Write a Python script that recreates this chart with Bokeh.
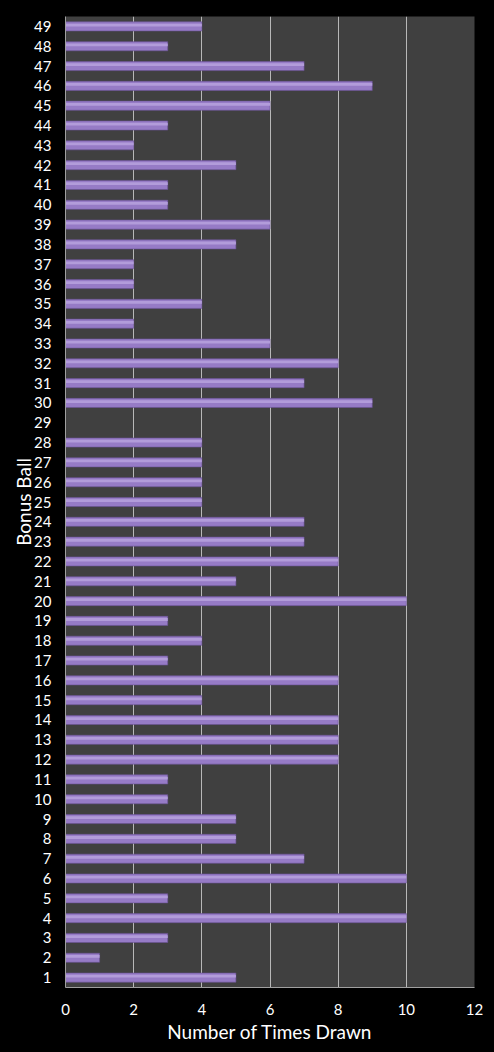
from bokeh.embed import file_html
from bokeh.resources import INLINE
from bokeh.plotting import figure
from bokeh.models import ColumnDataSource, FixedTicker, GlobalInlineStyleSheet

# Bonus ball numbers and how often each was drawn
balls = list(range(1, 50))
times_drawn = [
    5, 1, 3, 10, 3, 10, 7, 5, 5, 3,      # 1-10
    3, 8, 8, 8, 4, 8, 3, 4, 3, 10,       # 11-20
    5, 8, 7, 7, 4, 4, 4, 4, 0, 9,        # 21-30
    7, 8, 6, 2, 4, 2, 2, 5, 6, 3,        # 31-40
    3, 5, 2, 3, 6, 9, 7, 3, 4,          # 41-49
]
x_ticks = [0, 2, 4, 6, 8, 10, 12]

source = ColumnDataSource(dict(ball=balls, times=times_drawn))
# thin highlight strip sitting in the upper half of each bar
hi = ColumnDataSource(dict(ball=[b + 0.07 for b in balls], times=times_drawn))

p = figure(
    width=494, height=1052,
    x_range=(0, 12), y_range=(0.5, 49.5),
    toolbar_location=None, tools="",
    output_backend="svg",
    min_border_left=65, min_border_right=20,
    min_border_top=16, min_border_bottom=65,
)
p.stylesheets = [GlobalInlineStyleSheet(css="body { background: #000000; margin: 0; }")]

p.background_fill_color = "#404040"
p.border_fill_color = "#000000"
p.outline_line_color = None

p.hbar(y="ball", right="times", left=0, height=0.46, source=source,
       fill_color="#967bc6", line_color="#6a5296", line_width=0.6)
p.hbar(y="ball", right="times", left=0, height=0.14, source=hi,
       fill_color="#b29cda", line_color=None)

# grid
p.xgrid.grid_line_color = "#b8b8b8"
p.xgrid.grid_line_width = 1
p.ygrid.grid_line_color = None

# axes
p.xaxis.ticker = FixedTicker(ticks=x_ticks)
p.yaxis.ticker = FixedTicker(ticks=balls)
for ax in (p.xaxis[0], p.yaxis[0]):
    ax.axis_line_color = "#a0a0a0"
    ax.major_tick_line_color = None
    ax.minor_tick_line_color = None
    ax.major_label_text_color = "#ffffff"
    ax.major_label_text_font = "Lato"
    ax.major_label_text_font_size = "15px"
    ax.axis_label_text_color = "#ffffff"
    ax.axis_label_text_font = "Lato"
    ax.axis_label_text_font_size = "19px"
    ax.axis_label_text_font_style = "normal"

p.xaxis.axis_label = "Number of Times Drawn"
p.yaxis.axis_label = "Bonus Ball"
p.xaxis.major_label_standoff = 10
p.yaxis.major_label_standoff = 8
p.xaxis.axis_label_standoff = 2
p.yaxis.axis_label_standoff = -4

open("out.html", "w").write(file_html(p, INLINE))
